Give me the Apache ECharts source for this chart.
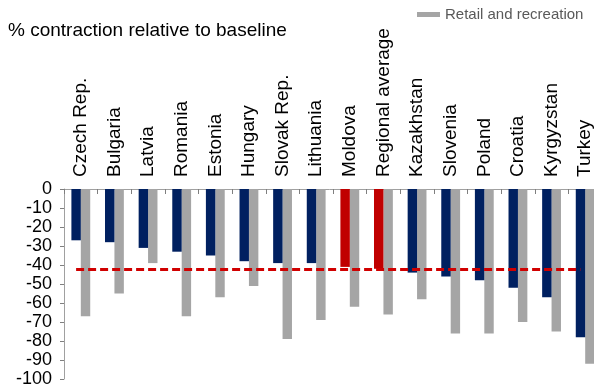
<!DOCTYPE html>
<html>
<head>
<meta charset="utf-8">
<script src="https://cdn.jsdelivr.net/npm/echarts@6/dist/echarts.min.js"></script>
<style>
  html, body { margin: 0; padding: 0; background: #fff; }
  #chart { width: 594px; height: 385px; }
</style>
</head>
<body>
<div id="chart"></div>
<script>
// Countries in order of the first mobility measure
const categories = [
  'Czech Rep.', 'Bulgaria', 'Latvia', 'Romania', 'Estonia', 'Hungary',
  'Slovak Rep.', 'Lithuania', 'Moldova', 'Regional average', 'Kazakhstan',
  'Slovenia', 'Poland', 'Croatia', 'Kyrgyzstan', 'Turkey'
];
// % contraction relative to baseline
const workplaces = [-27, -28, -31, -33, -35, -38, -39, -39, -41, -42, -44, -46, -48, -52, -57, -78];
const retailAndRecreation = [-67, -55, -39, -67, -57, -51, -79, -69, -62, -66, -58, -76, -76, -70, -75, -92];
// Bars drawn in the accent colour
const highlighted = ['Moldova', 'Regional average'];
// Value axis
const yMin = -100;
const yMax = 0;
const yStep = 10;

const NAVY = '#002060';
const GREY = '#A5A5A5';
const RED = '#C00000';
const FONT = 'Liberation Sans, Arial, sans-serif';

const avgValue = workplaces[categories.indexOf('Regional average')];

const chart = echarts.init(document.getElementById('chart'), null, { renderer: 'canvas' });

chart.setOption({
  animation: false,
  textStyle: { fontFamily: FONT },
  graphic: [{
    type: 'text',
    left: 8,
    top: 21,
    style: {
      text: '% contraction relative to baseline',
      font: '19px ' + FONT,
      fill: '#000'
    }
  }],
  legend: {
    data: ['Retail and recreation'],
    left: 417,
    top: 7,
    padding: 0,
    itemWidth: 23,
    itemHeight: 5,
    itemGap: 6,
    icon: 'rect',
    textStyle: { color: '#595959', fontSize: 15, fontFamily: FONT }
  },
  // the plot area runs a little past the right edge of the canvas
  grid: {
    left: 64, top: 189, width: 538, height: 190,
    containLabel: false,
    outerBoundsMode: 'none'
  },
  xAxis: {
    type: 'category',
    data: categories,
    position: 'top',
    axisLine: { show: true, lineStyle: { color: '#A0A0A0', width: 1 } },
    axisTick: { show: true, inside: true, length: 5, lineStyle: { color: '#7F7F7F' } },
    axisLabel: {
      rotate: 90,
      interval: 0,
      margin: 12,
      color: '#000',
      fontSize: 19,
      fontFamily: FONT
    }
  },
  yAxis: {
    type: 'value',
    min: yMin,
    max: yMax,
    interval: yStep,
    splitLine: { show: false },
    axisLine: { show: true, lineStyle: { color: '#A0A0A0', width: 1 } },
    axisTick: { show: true, length: 4, lineStyle: { color: '#7F7F7F' } },
    axisLabel: { color: '#000', fontSize: 18, margin: 12, fontFamily: FONT }
  },
  series: [
    {
      name: 'Workplaces',
      type: 'bar',
      barGap: '0%',
      barCategoryGap: '44%',
      itemStyle: { color: NAVY },
      data: workplaces.map((v, i) => highlighted.includes(categories[i])
        ? { value: v, itemStyle: { color: RED } }
        : v),
      markLine: {
        silent: true,
        symbol: ['none', 'none'],
        label: { show: false },
        lineStyle: { color: '#D00000', width: 3, type: [8, 4], opacity: 1 },
        emphasis: { disabled: true },
        data: [[
          { coord: [categories[0], avgValue] },
          { coord: [categories[categories.length - 1], avgValue] }
        ]],
        z: 10
      },
      z: 2
    },
    {
      name: 'Retail and recreation',
      type: 'bar',
      barGap: '0%',
      barCategoryGap: '44%',
      itemStyle: { color: GREY },
      data: retailAndRecreation,
      z: 1
    }
  ]
});
</script>
</body>
</html>
